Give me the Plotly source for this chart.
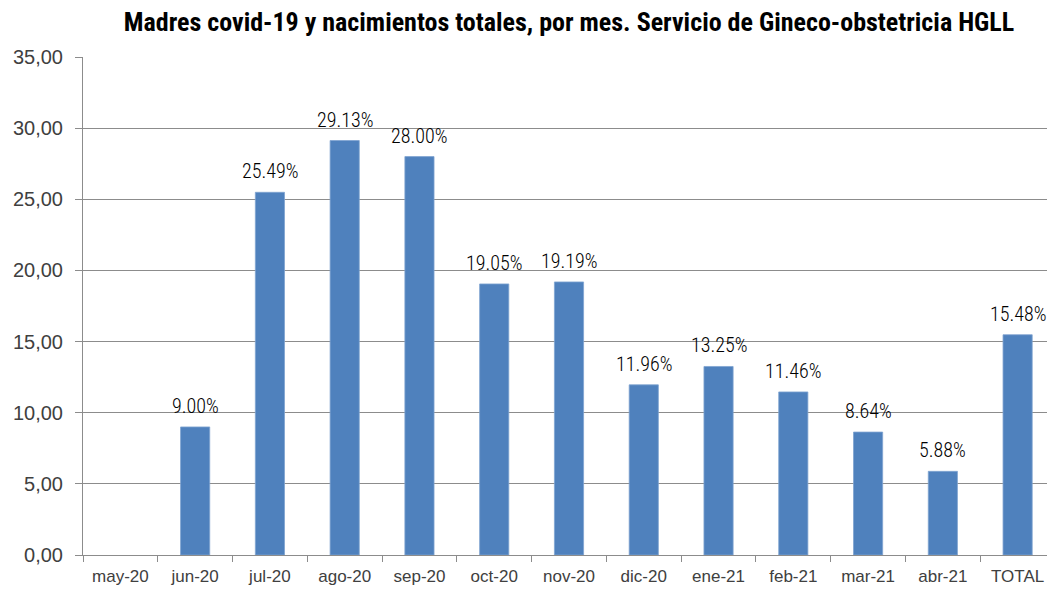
import plotly.graph_objects as go

categories = ["may-20", "jun-20", "jul-20", "ago-20", "sep-20", "oct-20", "nov-20",
              "dic-20", "ene-21", "feb-21", "mar-21", "abr-21", "TOTAL"]
values = [None, 9.00, 25.49, 29.13, 28.00, 19.05, 19.19, 11.96, 13.25, 11.46, 8.64, 5.88, 15.48]
y_ticks = [0, 5, 10, 15, 20, 25, 30, 35]
y_tick_text = [f"{t:.2f}".replace(".", ",") for t in y_ticks]

NARROW = "Roboto Condensed, Liberation Sans Narrow, Arial Narrow, sans-serif"
SANS = "Liberation Sans, Arial, sans-serif"

fig = go.Figure(go.Bar(
    x=categories, y=values,
    marker=dict(color="#4F81BD", line=dict(color="#7FA3D1", width=0.8)),
    cliponaxis=False, hoverinfo="x+y",
))

for c, v in zip(categories, values):
    if v is None:
        continue
    fig.add_annotation(x=c, y=v, text=f"{v:.2f}%", showarrow=False,
                       xanchor="center", yanchor="bottom", yshift=7,
                       font=dict(family=NARROW, size=20, color="#000000", weight=300))

# page body adds an 8px offset, so the figure is sized to fit the 1055x589 window
fig.update_layout(
    width=1047, height=581,
    paper_bgcolor="white", plot_bgcolor="white",
    margin=dict(l=75, r=0, t=49, b=34),
    bargap=0.61,
    showlegend=False,
    title=dict(text="<b>Madres covid-19 y nacimientos totales, por mes. Servicio de Gineco-obstetricia HGLL</b>",
               x=0.5, xref="paper", xanchor="center", y=0.976, yanchor="middle",
               font=dict(family=NARROW, size=26, color="#000000")),
)
fig.update_yaxes(
    range=[0, 35], tickvals=y_ticks, ticktext=y_tick_text,
    showgrid=True, gridcolor="#8c8c8c", gridwidth=1,
    showline=True, linecolor="#8c8c8c", linewidth=1,
    ticks="outside", ticklen=7, tickcolor="#8c8c8c", ticklabelstandoff=8,
    tickfont=dict(family=SANS, size=20, color="#404040"),
    zeroline=False, automargin=False,
)
fig.update_xaxes(
    showline=True, linecolor="#8c8c8c", linewidth=1,
    ticks="outside", ticklen=6, tickcolor="#8c8c8c", tickson="boundaries",
    ticklabelstandoff=6,
    tickfont=dict(family=SANS, size=17, color="#404040"),
    automargin=False,
)

fig.write_html("out.html")
